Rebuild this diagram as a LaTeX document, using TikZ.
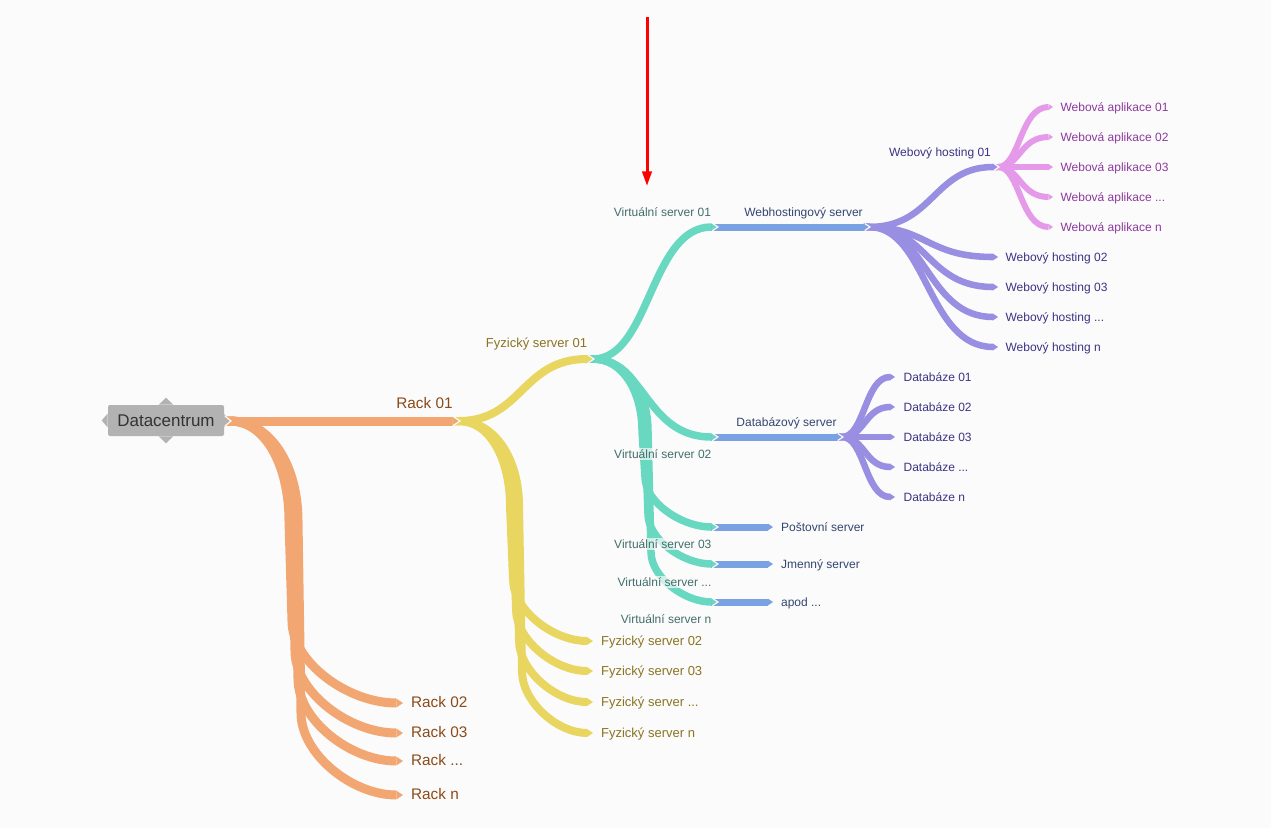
\documentclass[tikz,border=0pt]{standalone}
\usepackage{fontspec}
\setmainfont{Liberation Sans}
\usetikzlibrary{arrows.meta,calc}
\definecolor{bgc}{HTML}{FBFBFB}
\definecolor{corange}{HTML}{F2A773}
\definecolor{cyellow}{HTML}{E9D660}
\definecolor{cteal}{HTML}{68D8C1}
\definecolor{cblue}{HTML}{7AA1E2}
\definecolor{cpurple}{HTML}{988EE2}
\definecolor{cpink}{HTML}{E49AE8}
\definecolor{cgray}{HTML}{B2B2B2}
\definecolor{trk}{HTML}{8B4A18}
\definecolor{tfy}{HTML}{8A7422}
\definecolor{tvs}{HTML}{436E6B}
\definecolor{tbl}{HTML}{33466F}
\definecolor{tpu}{HTML}{3B3384}
\definecolor{tpk}{HTML}{8C3A9C}
\definecolor{tdc}{HTML}{333333}
\newcommand\jv[3]{\draw[bgc,line width=0.9pt,line join=miter] ([shift={({-(#2)+1},{-(#3)})}]#1) -- ([shift={(1,0)}]#1) -- ([shift={({-(#2)+1},{#3})}]#1);}
% branch with a near-vertical trunk: style, start, end, trunk x (px), first bend height (px), last bend height (px), tail (pt)
\newcommand\trunk[7]{%
\draw[#1] let \p1=(#2), \p2=(#3) in
 ([xshift=-#7]#2) -- (#2)
 .. controls ({\x1+0.6*(#4*0.75pt-\x1)},\y1) and ({#4*0.75pt},{\y1-0.45*#5*0.75pt}) .. ({#4*0.75pt},{\y1-#5*0.75pt})
 -- ({(#4+3)*0.75pt},{\y2+#6*0.75pt})
 .. controls ({(#4+3)*0.75pt},{\y2+0.5*#6*0.75pt}) and ({(#4+3)*0.75pt+0.5*(\x2-(#4+3)*0.75pt)},\y2) .. (#3);}
\begin{document}
\begin{tikzpicture}[x=0.75pt,y=-0.75pt,
 bcurve/.style={to path={let \p1=(\tikztostart),\p2=(\tikztotarget) in .. controls ({\x1+#1*(\x2-\x1)},\y1) and ({\x1+#1*(\x2-\x1)},\y2) .. (\tikztotarget)}},
 bcurve/.default=0.42,
 endtip/.style={-{Triangle[length=0pt 0.75,width=0pt 1,line width=0pt]}},
 brs/.style 2 args={draw=#1,line width=#2,endtip},
 ob/.style={brs={corange}{6.75pt}},
 yb/.style={brs={cyellow}{6pt}},
 tb/.style={brs={cteal}{5.6pt}},
 bb/.style={brs={cblue}{5.25pt}},
 pb/.style={brs={cpurple}{4.9pt}},
 kb/.style={brs={cpink}{4.5pt}},
 lbl/.style={inner xsep=1pt,inner ysep=0.6pt,text height=0.72em,text depth=0pt,fill=bgc,fill opacity=0.7,text opacity=1,font=\fontsize{9pt}{10pt}\selectfont},
 lrack/.style={lbl,text=trk,font=\fontsize{11.5pt}{13pt}\selectfont},
 lfy/.style={lbl,text=tfy,font=\fontsize{9.75pt}{11pt}\selectfont},
 lvs/.style={lbl,text=tvs},
 lbl2/.style={lbl,text=tbl},
 lpu/.style={lbl,text=tpu},
 lpk/.style={lbl,text=tpk},
 dcbox/.style={fill=cgray,rounded corners=1.5pt,minimum width=87pt,minimum height=23.25pt,inner sep=0pt,text=tdc,font=\fontsize{12.75pt}{14pt}\selectfont},
]
\fill[bgc] (0,0) rectangle (1271,828);
\useasboundingbox (0,0) rectangle (1271,828);
% junction coordinates
\coordinate (J0) at (230,421);
\coordinate (R1) at (459,421);
\coordinate (F1) at (593,359);
\coordinate (V1) at (717,227);
\coordinate (V2) at (717,437);
\coordinate (V3) at (717,527);
\coordinate (V4) at (717,564);
\coordinate (V5) at (717,602);
\coordinate (W) at (869,227);
\coordinate (D) at (842,437);
\coordinate (P3) at (773,527);
\coordinate (P4) at (773,564);
\coordinate (P5) at (773,602);
\coordinate (H1) at (998,167);
\foreach \yy [count=\i from 2] in {703,733,761,795} {\coordinate (K\i) at (403,\yy);}
\foreach \yy [count=\i from 2] in {641,671,702,733} {\coordinate (G\i) at (593,\yy);}
\foreach \yy [count=\i from 2] in {257,287,317,347} {\coordinate (H\i) at (998,\yy);}
\foreach \yy [count=\i] in {107,137,167,197,227} {\coordinate (A\i) at (1053,\yy);}
\foreach \yy [count=\i] in {377,407,437,467,497} {\coordinate (B\i) at (895,\yy);}
% pink
\foreach \i in {1,...,5} {\draw[kb] ([xshift=-3.7pt]H1) -- (H1) to[bcurve=0.4] (A\i);}
% purple
\foreach \i in {1,...,5} {\draw[pb] ([xshift=-3.9pt]D) -- (D) to[bcurve=0.43] (B\i);}
\foreach \i in {2,...,5} {\draw[pb] ([xshift=-3.9pt]W) -- (W) to[bcurve=0.45] (H\i);}
\draw[pb] ([xshift=-3.9pt]W) -- (W) to[bcurve=0.5] (H1);
% blue
\draw[bb] ([xshift=-4.2pt]V1) -- (W);
\draw[bb] ([xshift=-4.2pt]V2) -- (D);
\foreach \i in {3,4,5} {\draw[bb] ([xshift=-4.2pt]V\i) -- (P\i);}
% teal
\trunk{tb}{F1}{V5}{648}{72}{50}{4.5pt}
\trunk{tb}{F1}{V4}{645}{72}{50}{4.5pt}
\trunk{tb}{F1}{V3}{642}{72}{50}{4.5pt}
\draw[tb] ([xshift=-4.5pt]F1) -- (F1) to[bcurve=0.42] (V2);
\draw[tb] ([xshift=-4.5pt]F1) -- (F1) to[bcurve=0.46] (V1);
% yellow
\trunk{yb}{R1}{G5}{519}{85}{62}{5pt}
\trunk{yb}{R1}{G4}{516}{85}{62}{5pt}
\trunk{yb}{R1}{G3}{513}{85}{62}{5pt}
\trunk{yb}{R1}{G2}{510}{85}{62}{5pt}
\draw[yb] ([xshift=-5pt]R1) -- (R1) to[bcurve=0.47] (F1);
% orange
\trunk{ob}{J0}{K5}{298}{100}{82}{4.5pt}
\trunk{ob}{J0}{K4}{295}{100}{82}{4.5pt}
\trunk{ob}{J0}{K3}{292}{100}{82}{4.5pt}
\trunk{ob}{J0}{K2}{289}{100}{82}{4.5pt}
\draw[ob] ([xshift=-4.5pt]J0) -- (R1);
% root node
\node[dcbox] (dc) at (166,420.5) {Datacentrum};
\fill[cgray] ([xshift=-5.5pt]dc.north) -- ([yshift=5.25pt]dc.north) -- ([xshift=5.5pt]dc.north) -- cycle;
\fill[cgray] ([xshift=-5.5pt]dc.south) -- ([yshift=-5.25pt]dc.south) -- ([xshift=5.5pt]dc.south) -- cycle;
\fill[cgray] ([yshift=5.25pt]dc.west) -- ([xshift=-4.5pt]dc.west) -- ([yshift=-5.25pt]dc.west) -- cycle;
\fill[cgray] ([yshift=5pt]dc.east) -- (J0) -- ([yshift=-5pt]dc.east) -- cycle;
% junction gaps
\jv{J0}{6}{5}
\jv{R1}{6.75}{4.5}
\jv{F1}{6}{4}
\jv{V1}{5.6}{3.75}
\jv{V2}{5.6}{3.75}
\jv{V3}{5.6}{3.75}
\jv{V4}{5.6}{3.75}
\jv{V5}{5.6}{3.75}
\jv{W}{5.25}{3.5}
\jv{D}{5.25}{3.5}
\jv{H1}{4.9}{3.25}
% labels
\node[lrack] (lr1) at (424.5,404) {Rack 01};
\node[lrack,anchor=west] (lr2) at (409.5,703) {Rack 02};
\node[lrack,anchor=west] (lr3) at (409.5,733) {Rack 03};
\node[lrack,anchor=west] (lr4) at (409.5,761) {Rack ...};
\node[lrack,anchor=west] (lr5) at (409.5,795) {Rack n};
\node[lfy] (lf1) at (536.5,343) {Fyzický server 01};
\node[lfy,anchor=west] (lf2) at (599.5,641) {Fyzický server 02};
\node[lfy,anchor=west] (lf3) at (599.5,671) {Fyzický server 03};
\node[lfy,anchor=west] (lf4) at (599.5,702) {Fyzický server ...};
\node[lfy,anchor=west] (lf5) at (599.5,733) {Fyzický server n};
\node[lvs] (lv1) at (662.5,212) {Virtuální server 01};
\node[lvs,anchor=east] (lv2) at (713,454) {Virtuální server 02};
\node[lvs,anchor=east] (lv3) at (713,544) {Virtuální server 03};
\node[lvs,anchor=east] (lv4) at (713,582) {Virtuální server ...};
\node[lvs,anchor=east] (lv5) at (713,619) {Virtuální server n};
\node[lbl2] (lw) at (803.5,212) {Webhostingový server};
\node[lbl2] (ld) at (786.5,422) {Databázový server};
\node[lbl2,anchor=west] (lp3) at (779.5,527) {Poštovní server};
\node[lbl2,anchor=west] (lp4) at (779.5,564) {Jmenný server};
\node[lbl2,anchor=west] (lp5) at (779.5,602) {apod ...};
\node[lpu] (lh1) at (940,152) {Webový hosting 01};
\node[lpu,anchor=west] (lh2) at (1004,257) {Webový hosting 02};
\node[lpu,anchor=west] (lh3) at (1004,287) {Webový hosting 03};
\node[lpu,anchor=west] (lh4) at (1004,317) {Webový hosting ...};
\node[lpu,anchor=west] (lh5) at (1004,347) {Webový hosting n};
\node[lpk,anchor=west] (la1) at (1059,107) {Webová aplikace 01};
\node[lpk,anchor=west] (la2) at (1059,137) {Webová aplikace 02};
\node[lpk,anchor=west] (la3) at (1059,167) {Webová aplikace 03};
\node[lpk,anchor=west] (la4) at (1059,197) {Webová aplikace ...};
\node[lpk,anchor=west] (la5) at (1059,227) {Webová aplikace n};
\node[lpu,anchor=west] (lb1) at (902,377) {Databáze 01};
\node[lpu,anchor=west] (lb2) at (902,407) {Databáze 02};
\node[lpu,anchor=west] (lb3) at (902,437) {Databáze 03};
\node[lpu,anchor=west] (lb4) at (902,467) {Databáze ...};
\node[lpu,anchor=west] (lb5) at (902,497) {Databáze n};
% red arrow
\coordinate (ra) at (647,17);
\coordinate (rb) at (647,186);
\draw[red,line width=2.25pt,-{Triangle[length=11pt,width=7pt]}] (ra) -- (rb);
\end{tikzpicture}
\end{document}
